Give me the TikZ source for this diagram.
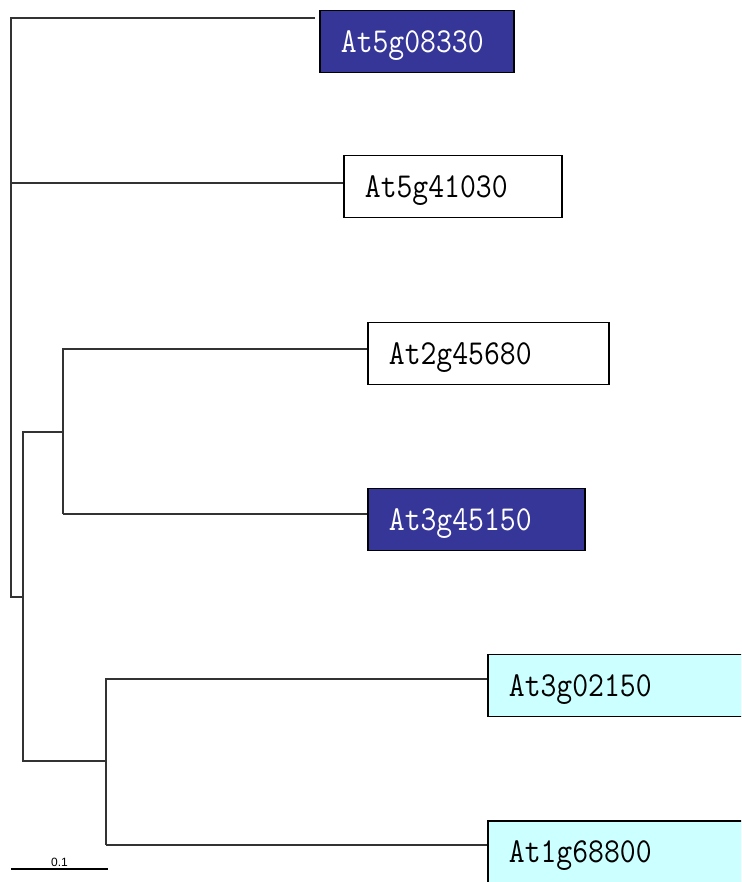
\documentclass[tikz,border=0pt]{standalone}
\usepackage{graphicx}
\usepackage{fontspec}
\newfontfamily\sbfont{Liberation Sans}
\definecolor{dblue}{RGB}{54,54,153}
\definecolor{lcyan}{RGB}{204,255,255}
\newcommand\leaffont{\fontsize{35}{35}\selectfont\ttfamily}
\newcommand\lbl[1]{\scalebox{0.88}[1]{#1}}
\tikzset{
  branch/.style={draw=black!80, line width=1.2pt},
  leafbox/.style={draw=black, line width=1.8pt, anchor=west, minimum height=62pt,
    inner xsep=21pt, inner ysep=0pt, align=left, text depth=0pt, font=\leaffont},
  darkleaf/.style={leafbox, fill=dblue, text=white},
  plainleaf/.style={leafbox, fill=white, text=black},
  cyanleaf/.style={leafbox, fill=lcyan, text=black},
}
\begin{document}
\begin{tikzpicture}[x=1pt,y=-1pt]
\useasboundingbox (0,0) rectangle (741,882);
\clip (0,0) rectangle (741,882);
% leaves
\node[darkleaf, text width=152pt]  (A) at (319,41.5) {\lbl{At5g08330}};
\node[plainleaf, text width=176pt] (B) at (343,186.5) {\lbl{At5g41030}};
\node[plainleaf, text width=199pt] (C) at (367,353.5) {\lbl{At2g45680}};
\node[darkleaf, text width=175pt]  (D) at (367,519.5) {\lbl{At3g45150}};
\node[cyanleaf, text width=280pt]  (E) at (487,685.5) {\lbl{At3g02150}};
\node[cyanleaf, text width=280pt]  (F) at (487,852) {\lbl{At1g68800}};
% leaf tips
\coordinate (tA) at (315,18);
\coordinate (tB) at (B.west |- 0,183);
\coordinate (tC) at (C.west |- 0,349);
\coordinate (tD) at (D.west |- 0,514);
\coordinate (tE) at (E.west |- 0,679);
\coordinate (tF) at (F.west |- 0,845);
% internal nodes
\coordinate (n0) at (11,597);
\coordinate (n1) at (23,432);
\coordinate (n2) at (63,514);
\coordinate (n3) at (106,845);
\coordinate (n3m) at (106,761);
% branches
\draw[branch] (tA) -| (n0) -- (n0 -| n1);
\draw[branch] (tB) -- (tB -| n0);
\draw[branch] (tC) -| (n2);
\draw[branch] (tD) -- (n2);
\draw[branch] (n1 -| n2) -- (n1) |- (n3m);
\draw[branch] (tE) -| (n3);
\draw[branch] (tF) -- (n3);
% scale bar
\coordinate (s1) at (11,869);
\coordinate (s2) at (108,869);
\draw[line width=1.2pt] (s1) -- (s2) node[midway, above, inner sep=1.5pt, font=\sbfont\fontsize{12}{14}\selectfont] (sl) {0.1};
\end{tikzpicture}
\end{document}
